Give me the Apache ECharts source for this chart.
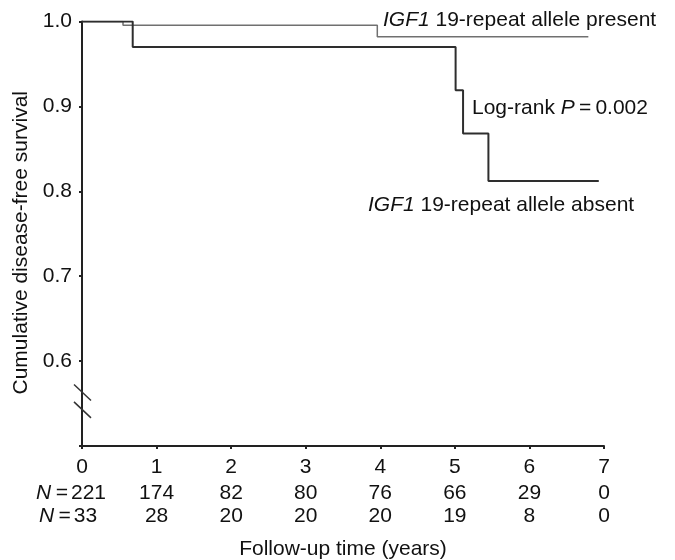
<!DOCTYPE html>
<html>
<head>
<meta charset="utf-8">
<script src="https://cdn.jsdelivr.net/npm/echarts@6/dist/echarts.min.js"></script>
<style>
html,body{margin:0;padding:0;background:#fff;}
#chart{width:675px;height:560px;}
</style>
</head>
<body>
<div id="chart"></div>
<script>
// ---- data ----
var xTicks = [0, 1, 2, 3, 4, 5, 6, 7];
var yTicks = [0.6, 0.7, 0.8, 0.9, 1.0];
// IGF1 19-repeat allele present (Kaplan-Meier steps: [time, survival])
var presentCurve = [[0, 1.0], [0.55, 0.9955], [3.96, 0.982], [6.79, 0.982]];
// IGF1 19-repeat allele absent
var absentCurve = [[0, 1.0], [0.68, 0.970], [5.01, 0.919], [5.11, 0.868], [5.45, 0.812], [6.93, 0.812]];
// numbers at risk
var atRiskPresent = [221, 174, 82, 80, 76, 66, 29, 0];
var atRiskAbsent = [33, 28, 20, 20, 20, 19, 8, 0];
var geneName = 'IGF1';

var FONT = '"Liberation Sans", Arial, Helvetica, sans-serif';
var FS = 21;
var chart = echarts.init(document.getElementById('chart'), null, {renderer: 'canvas'});

function riskAxis(arr, offset, pad) {
  return {
    type: 'value', position: 'bottom', offset: offset, gridIndex: 0,
    min: 0, max: 7, interval: 1,
    axisLine: {show: false}, axisTick: {show: false}, splitLine: {show: false},
    axisLabel: {
      margin: 11, color: '#111', fontFamily: FONT, fontSize: FS,
      formatter: function (v, i) {
        var idx = Math.round(v);
        var n = arr[idx];
        if (idx === 0) return '{pre|N\u2009=\u2009}{v|' + n + '}{pad|}';
        return '' + n;
      },
      rich: {
        pre: {fontFamily: FONT, fontSize: FS, fontStyle: 'italic', color: '#111', width: 34, align: 'right'},
        v: {fontFamily: FONT, fontSize: FS, color: '#111'},
        pad: {width: pad}
      }
    }
  };
}

var option = {
  animation: false,
  backgroundColor: '#fff',
  grid: {left: 82, right: 71, top: 21.5, bottom: 114, containLabel: false, outerBoundsMode: 'none'},
  xAxis: [
    {
      type: 'value', min: 0, max: 7, interval: 1, position: 'bottom',
      axisLine: {show: true, onZero: false, lineStyle: {color: '#222', width: 2}},
      axisTick: {show: true, length: 3, lineStyle: {color: '#222', width: 2}},
      splitLine: {show: false},
      axisLabel: {margin: 11, color: '#111', fontFamily: FONT, fontSize: FS,
        formatter: function (v) { return '' + xTicks[Math.round(v)]; }}
    },
    riskAxis(atRiskPresent, 26, 21),
    (function () {
      var a = riskAxis(atRiskAbsent, 49, 27);
      a.name = 'Follow-up time (years)';
      a.nameLocation = 'middle';
      a.nameGap = 44;
      a.nameTextStyle = {color: '#111', fontFamily: FONT, fontSize: FS};
      return a;
    })()
  ],
  yAxis: {
    type: 'value', min: 0.5, max: 1.0, interval: 0.1,
    name: 'Cumulative disease-free survival',
    nameLocation: 'middle', nameGap: 45,
    nameTextStyle: {color: '#111', fontFamily: FONT, fontSize: FS, padding: [0, 18, 0, 0]},
    axisLine: {show: true, lineStyle: {color: '#222', width: 2}},
    axisTick: {show: true, length: 3, lineStyle: {color: '#222', width: 2}},
    splitLine: {show: false},
    axisLabel: {margin: 10, color: '#111', fontFamily: FONT, fontSize: FS,
      formatter: function (v) {
        for (var i = 0; i < yTicks.length; i++) {
          if (Math.abs(yTicks[i] - v) < 1e-6) return yTicks[i].toFixed(1);
        }
        return '';
      }}
  },
  series: [
    {
      name: 'present', type: 'line', step: 'end', data: presentCurve,
      symbol: 'none', lineStyle: {color: '#707070', width: 1.5}, z: 3
    },
    {
      name: 'absent', type: 'line', step: 'end', data: absentCurve,
      symbol: 'none', lineStyle: {color: '#2e2e2e', width: 2}, z: 4
    }
  ],
  graphic: [
    {type: 'text', left: 383, top: 10, style: {
      text: '{i|' + geneName + '} 19-repeat allele present',
      fontFamily: FONT, fontSize: FS, fill: '#111',
      rich: {i: {fontStyle: 'italic', fontFamily: FONT, fontSize: FS, fill: '#111'}}}},
    {type: 'text', left: 472, top: 98, style: {
      text: 'Log-rank {i|P}\u2009=\u20090.002',
      fontFamily: FONT, fontSize: FS, fill: '#111',
      rich: {i: {fontStyle: 'italic', fontFamily: FONT, fontSize: FS, fill: '#111'}}}},
    {type: 'text', left: 368, top: 195, style: {
      text: '{i|' + geneName + '} 19-repeat allele absent',
      fontFamily: FONT, fontSize: FS, fill: '#111',
      rich: {i: {fontStyle: 'italic', fontFamily: FONT, fontSize: FS, fill: '#111'}}}}
  ]
};
chart.setOption(option);

// axis-break marks on the y axis, placed through the axis scale
var breakVals = [0.563, 0.5425];
var g = option.graphic.slice();
breakVals.forEach(function (bv) {
  var p = chart.convertToPixel({xAxisIndex: 0, yAxisIndex: 0}, [0, bv]);
  g.push({type: 'line', shape: {x1: p[0] - 8, y1: p[1] - 8, x2: p[0] + 9, y2: p[1] + 8},
    style: {stroke: '#333', lineWidth: 1.5}, z: 10});
});
chart.setOption({graphic: g});
</script>
</body>
</html>
